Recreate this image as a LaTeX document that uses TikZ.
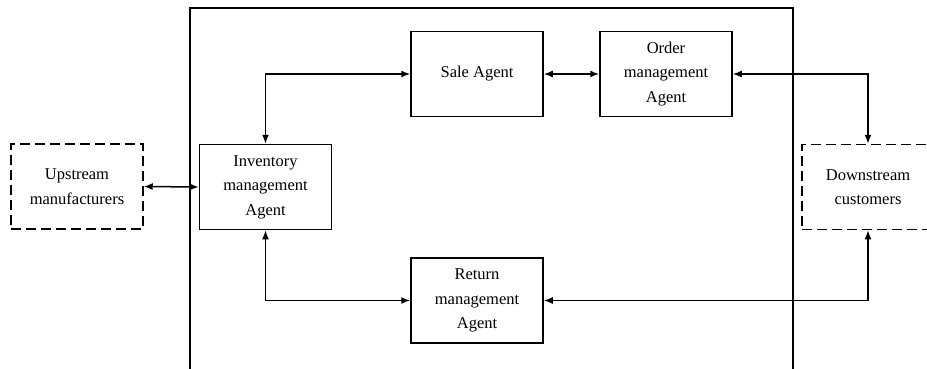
\documentclass[tikz,border=0pt]{standalone}
\usepackage{fontspec}
\setmainfont{Liberation Serif}
\usetikzlibrary{arrows.meta}

\tikzset{every picture/.style={line width=1.5pt}}
\tikzset{
  agent/.style={draw, minimum width=132pt, minimum height=85pt, inner sep=0pt,
    align=center, font=\fontsize{16.5}{24.5}\selectfont},
  party/.style={agent, dash pattern={on 10pt off 5pt}},
  link/.style={{Latex[length=9pt,width=7pt]}-{Latex[length=9pt,width=7pt]}}
}

\begin{document}
\begin{tikzpicture}[x=1pt,y=1pt,yscale=-1,xscale=1]
	\clip (0,0) rectangle (927,369);
	
	%Frame
	\draw [line width=1.2pt] (190,369) -- (190,8) -- (793,8) -- (793,369) ;
	
	% Outside parties
	\node [party] (up) at (77,186.5) {Upstream\\manufacturers};
	\node [party] (down) at (868,187) {Downstream\\customers};
	
	% Agents
	\node [agent] (inv) at (265.5,187) {Inventory\\management\\Agent};
	\node [agent] (sale) at (477,74) {Sale Agent};
	\node [agent] (order) at (666,74) {Order\\management\\Agent};
	\node [agent] (ret) at (477,300.5) {Return\\management\\Agent};
	
	% Links
	\draw [link] (up.east) -- (inv.west) ;
	\draw [link] (inv.north) |- (sale.west) ;
	\draw [link] (sale.east) -- (order.west) ;
	\draw [link] (order.east) -| (down.north) ;
	\draw [link] (inv.south) |- (ret.west) ;
	\draw [link] (ret.east) -| (down.south) ;
	
\end{tikzpicture}
\end{document}
